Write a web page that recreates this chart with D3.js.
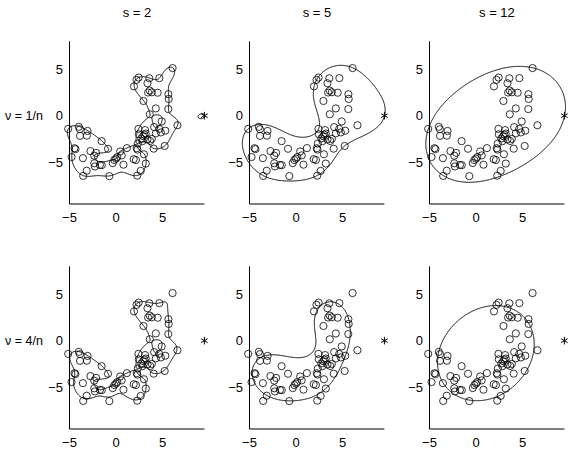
<!DOCTYPE html>
<html><head><meta charset="utf-8">
<script src="https://cdn.jsdelivr.net/npm/d3@7"></script>
<style>body{margin:0;background:#fff} text{font-family:"Liberation Sans",Arial,sans-serif;fill:#000}</style>
</head><body><svg id="c" width="572" height="458"></svg>
<script>
// ---- data ----
const pointsX = [6.08,2.43,2.20,1.93,3.58,4.66,3.38,3.62,3.45,3.85,4.48,5.63,5.66,2.95,4.28,5.62,3.63,4.91,6.60,
 -5.14,-4.00,-3.88,-3.87,-3.06,-3.13,-4.46,-4.36,-4.78,-3.56,-2.75,-2.14,-2.34,-2.34,-2.27,-1.73,-1.53,-3.15,-3.53,
 -1.55,-0.86,-0.72,-0.35,-0.18,0.00,0.14,0.45,0.61,1.17,0.80,1.90,2.14,2.23,2.30,2.34,2.41,2.45,2.28,2.65,3.00,3.20,
 2.72,2.84,3.13,3.20,3.38,3.67,3.85,4.10,4.28,4.64,4.82,5.30,5.23,4.05,2.92,3.05];
const pointsY = [5.12,4.10,3.85,3.15,4.02,4.04,3.49,2.70,2.49,2.52,2.47,2.31,1.80,1.58,0.78,0.71,0.15,-0.62,-1.03,
 -1.42,-1.20,-1.45,-2.17,-1.64,-2.15,-3.50,-3.60,-4.45,-4.57,-3.81,-4.00,-4.30,-5.12,-5.46,-5.30,-5.32,-5.92,-6.48,
 -2.74,-3.56,-6.50,-5.10,-4.77,-4.62,-4.45,-3.85,-4.27,-3.49,-5.27,-4.68,-4.77,-3.50,-3.65,-3.00,-1.42,-2.00,-6.45,-5.94,-4.15,-5.15,
 -2.45,-2.74,-1.55,-1.92,-2.56,-2.72,-2.50,-1.23,-1.90,-1.42,-1.80,-1.62,-3.26,-3.55,-2.20,-2.05];
const outlierX = [9.5];               // the starred point
const outlierY = [0];
const kernelWidths = [2, 5, 12];      // s, one per column
const boundInverse = [1, 18];         // 1/C of the one-class SVM, one per row (tuned to the picture)
const columnTitles = ["s = 2", "s = 5", "s = 12"];
const rowLabels = ["\u03bd = 1/n", "\u03bd = 4/n"];
const xTicks = [-5, 0, 5];
const yTicks = [-5, 0, 5];
const xDomain = [-5, 9.5];
const yDomain = [-9.5, 8];

const X = pointsX.map((x,i)=>[x, pointsY[i]]).concat(outlierX.map((x,i)=>[x, outlierY[i]]));

// one-class SVM (SVDD) with Gaussian kernel exp(-d^2/s^2), solved by SMO
function trainOCSVM(X, s, invC){
  const n = X.length, C = 1/invC, s2 = s*s;
  const K = X.map(a=>X.map(b=>Math.exp(-((a[0]-b[0])**2+(a[1]-b[1])**2)/s2)));
  const alpha = new Array(n).fill(1/n);
  const g = K.map(row=>row.reduce((acc,k,j)=>acc+k*alpha[j],0));
  for(let it=0; it<300000; it++){
    let i=-1,j=-1,gi=Infinity,gj=-Infinity;
    for(let k=0;k<n;k++){
      if(alpha[k]<C-1e-13 && g[k]<gi){gi=g[k];i=k;}
      if(alpha[k]>1e-13 && g[k]>gj){gj=g[k];j=k;}
    }
    if(i<0||j<0||gj-gi<1e-11) break;
    const eta = K[i][i]+K[j][j]-2*K[i][j];
    let t = eta>1e-14 ? (gj-gi)/eta : Infinity;
    t = Math.min(t, C-alpha[i], alpha[j]);
    alpha[i]+=t; alpha[j]-=t;
    for(let k=0;k<n;k++) g[k]+=t*(K[k][i]-K[k][j]);
  }
  let sum=0,cnt=0,ub=Infinity,lb=-Infinity;
  for(let k=0;k<n;k++){
    if(alpha[k]>1e-9 && alpha[k]<C-1e-9){sum+=g[k];cnt++;}
    else if(alpha[k]<=1e-9) ub=Math.min(ub,g[k]);
    else lb=Math.max(lb,g[k]);
  }
  const rho = cnt ? sum/cnt : (isFinite(ub)&&isFinite(lb) ? (ub+lb)/2 : (isFinite(ub)?ub:lb));
  const sv = [];
  for(let k=0;k<n;k++) if(alpha[k]>1e-10) sv.push([X[k][0],X[k][1],alpha[k]]);
  return {sv, rho, s2};
}

const svg = d3.select("#c");
const colX0 = [69.5, 249.5, 429.5];
const rowY0 = [204, 429];
const pw = 134.9, ph = 162.7;
const gx0=-6.5, gy0=-10.5, h=0.05;
const nx = Math.round((11.5-gx0)/h)+1, ny = Math.round((9.5-gy0)/h)+1;
const fmt = d => d<0 ? "\u2212"+Math.abs(d) : String(d);

boundInverse.forEach((invC, r)=>{
  kernelWidths.forEach((s, c)=>{
    const xs = d3.scaleLinear().domain(xDomain).range([colX0[c], colX0[c]+pw]);
    const ys = d3.scaleLinear().domain(yDomain).range([rowY0[r], rowY0[r]-ph]);
    const g = svg.append("g");
    g.append("line").attr("x1",xs(xDomain[0])).attr("x2",xs(xDomain[1])).attr("y1",ys(yDomain[0])).attr("y2",ys(yDomain[0])).attr("stroke","#000").attr("stroke-width",1);
    g.append("line").attr("x1",xs(xDomain[0])).attr("x2",xs(xDomain[0])).attr("y1",ys(yDomain[0])).attr("y2",ys(yDomain[1])).attr("stroke","#000").attr("stroke-width",1);
    g.selectAll(".xt").data(xTicks).enter().append("text").attr("x",d=>xs(d)).attr("y",ys(yDomain[0])+18)
      .attr("text-anchor","middle").attr("font-size",13).text(fmt);
    g.selectAll(".yt").data(yTicks).enter().append("text").attr("x",xs(xDomain[0])-6.5).attr("y",d=>ys(d)+4.6)
      .attr("text-anchor","end").attr("font-size",13).text(fmt);
    if(r===0) g.append("text").attr("x",(xs(xDomain[0])+xs(xDomain[1]))/2).attr("y",16.5).attr("text-anchor","middle").attr("font-size",13).text(columnTitles[c]);
    if(c===0) g.append("text").attr("x",5).attr("y",ys(0)+4.6).attr("font-size",12.5).text(rowLabels[r]);

    const m = trainOCSVM(X, s, invC);
    const vals = new Float64Array(nx*ny);
    for(let j=0;j<ny;j++){
      const y = gy0+j*h;
      for(let i=0;i<nx;i++){
        const x = gx0+i*h;
        let f = 0;
        for(const v of m.sv){ f += v[2]*Math.exp(-((x-v[0])**2+(y-v[1])**2)/m.s2); }
        vals[j*nx+i] = f - m.rho;
      }
    }
    const cont = d3.contours().size([nx,ny]).thresholds([0])(vals);
    const proj = d3.geoTransform({point(px,py){ this.stream.point(xs(gx0+px*h), ys(gy0+py*h)); }});
    g.append("path").datum(cont[0]).attr("d", d3.geoPath(proj)).attr("fill","none").attr("stroke","#000").attr("stroke-width",1);

    g.selectAll(".pt").data(pointsX).enter().append("circle")
      .attr("cx",(d)=>xs(d)).attr("cy",(d,i)=>ys(pointsY[i])).attr("r",3.6)
      .attr("fill","none").attr("stroke","#000").attr("stroke-width",0.8);
    const star = d3.symbol().type(d3.symbolAsterisk || d3.symbolCross).size(40);
    g.selectAll(".st").data(outlierX).enter().append("path")
      .attr("transform",(d,i)=>`translate(${xs(d)},${ys(outlierY[i])})`).attr("d",star())
      .attr("fill","none").attr("stroke","#000").attr("stroke-width",1);
  });
});
</script></body></html>
